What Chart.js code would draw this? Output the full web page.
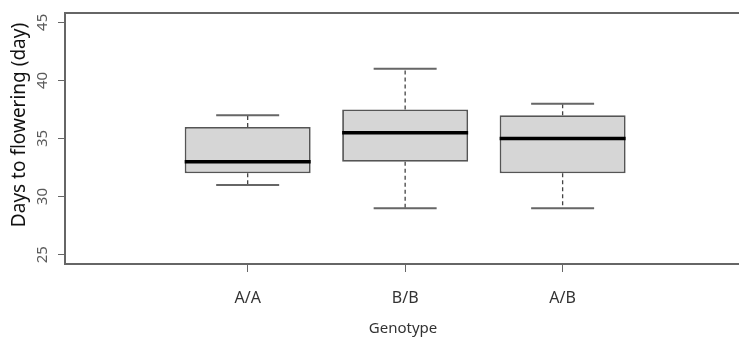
<!DOCTYPE html>
<html>
<head>
<meta charset="utf-8">
<script src="https://cdn.jsdelivr.net/npm/chart.js@4/dist/chart.umd.min.js"></script>
<style>
html,body{margin:0;padding:0;background:#fff;overflow:hidden;}
#wrap{width:739px;height:339px;}
</style>
</head>
<body>
<div id="wrap"><canvas id="c" width="739" height="339"></canvas></div>
<script>
const categories = ['A/A', 'B/B', 'A/B'];
const positions = [1, 2, 3];
const whiskerLow = [31, 29, 29];
const q1 = [32, 33, 32];
const median = [33, 35.5, 35];
const q3 = [36, 37.5, 37];
const whiskerHigh = [37, 41, 38];
const yTicks = [25, 30, 35, 40, 45];
const xTitle = 'Genotype';
const yTitle = 'Days to flowering (day)';

const boxPlugin = {
  id: 'boxExtras',
  afterDatasetsDraw(chart) {
    const ctx = chart.ctx, xs = chart.scales.x, ys = chart.scales.y;
    ctx.save();
    positions.forEach((p, i) => {
      const x = xs.getPixelForValue(p);
      const capL = xs.getPixelForValue(p - 0.2), capR = xs.getPixelForValue(p + 0.2);
      const boxL = xs.getPixelForValue(p - 0.4), boxR = xs.getPixelForValue(p + 0.4);
      ctx.strokeStyle = '#444';
      ctx.lineWidth = 1.3;
      ctx.setLineDash([4, 3]);
      ctx.beginPath();
      ctx.moveTo(x, ys.getPixelForValue(q3[i]));
      ctx.lineTo(x, ys.getPixelForValue(whiskerHigh[i]));
      ctx.moveTo(x, ys.getPixelForValue(q1[i]));
      ctx.lineTo(x, ys.getPixelForValue(whiskerLow[i]));
      ctx.stroke();
      ctx.setLineDash([]);
      ctx.strokeStyle = '#666';
      ctx.lineWidth = 2;
      ctx.beginPath();
      ctx.moveTo(capL, ys.getPixelForValue(whiskerHigh[i]));
      ctx.lineTo(capR, ys.getPixelForValue(whiskerHigh[i]));
      ctx.moveTo(capL, ys.getPixelForValue(whiskerLow[i]));
      ctx.lineTo(capR, ys.getPixelForValue(whiskerLow[i]));
      ctx.stroke();
      ctx.strokeStyle = '#000';
      ctx.lineWidth = 3.5;
      ctx.beginPath();
      ctx.moveTo(boxL, ys.getPixelForValue(median[i]));
      ctx.lineTo(boxR, ys.getPixelForValue(median[i]));
      ctx.stroke();
    });
    ctx.restore();
  },
  afterDraw(chart) {
    const ctx = chart.ctx, xs = chart.scales.x, ys = chart.scales.y, a = chart.chartArea;
    ctx.save();
    ctx.strokeStyle = '#666';
    ctx.lineWidth = 2;
    ctx.beginPath();
    ctx.moveTo(a.right + 2, a.top);
    ctx.lineTo(a.left, a.top);
    ctx.lineTo(a.left, a.bottom);
    ctx.lineTo(a.right + 2, a.bottom);
    ctx.stroke();
    ctx.fillStyle = '#5a5a5a';
    ctx.font = '15px "Noto Sans", sans-serif';
    ctx.textAlign = 'center';
    ctx.textBaseline = 'middle';
    ys.ticks.forEach(t => {
      const y = ys.getPixelForValue(t.value);
      ctx.save();
      ctx.translate(43, y);
      ctx.rotate(-Math.PI / 2);
      ctx.fillText(String(t.value), 0, 0);
      ctx.restore();
    });
    ctx.save();
    ctx.fillStyle = '#111';
    ctx.font = '19px "Noto Sans", sans-serif';
    ctx.translate(20, 125);
    ctx.rotate(-Math.PI / 2);
    ctx.fillText(yTitle, 0, 0);
    ctx.restore();
    ctx.fillStyle = '#333';
    ctx.font = '16px "Noto Sans", sans-serif';
    positions.forEach((p, i) => {
      ctx.fillText(categories[i], xs.getPixelForValue(p), 298);
    });
    ctx.font = '15px "Noto Sans", sans-serif';
    ctx.fillText(xTitle, 403, 329);
    ctx.restore();
  }
};

new Chart(document.getElementById('c'), {
  type: 'bar',
  data: {
    datasets: [{
      data: positions.map((p, i) => ({ x: p, y: [q1[i], q3[i]] })),
      backgroundColor: '#d6d6d6',
      borderColor: '#555',
      borderWidth: 1.8,
      borderSkipped: false,
      categoryPercentage: 1,
      barPercentage: 0.8
    }]
  },
  options: {
    responsive: false,
    animation: false,
    events: [],
    layout: { padding: { top: 13, left: 0, right: 0, bottom: 0 } },
    plugins: { legend: { display: false }, tooltip: { enabled: false } },
    scales: {
      x: {
        type: 'linear',
        min: -0.16,
        max: 4.12,
        offset: false,
        afterBuildTicks: s => { s.ticks = positions.map(v => ({ value: v })); },
        afterFit: s => { s.height = 75; },
        ticks: { display: false },
        grid: { offset: false, drawOnChartArea: false, drawTicks: true, tickLength: 8, color: '#666', lineWidth: 1 },
        border: { display: false }
      },
      y: {
        min: 24.2,
        max: 45.8,
        afterBuildTicks: s => { s.ticks = yTicks.map(v => ({ value: v })); },
        afterFit: s => { s.width = 65; },
        ticks: { display: false },
        grid: { drawOnChartArea: false, drawTicks: true, tickLength: 7, color: '#666', lineWidth: 1 },
        border: { display: false }
      }
    }
  },
  plugins: [boxPlugin]
});
</script>
</body>
</html>
